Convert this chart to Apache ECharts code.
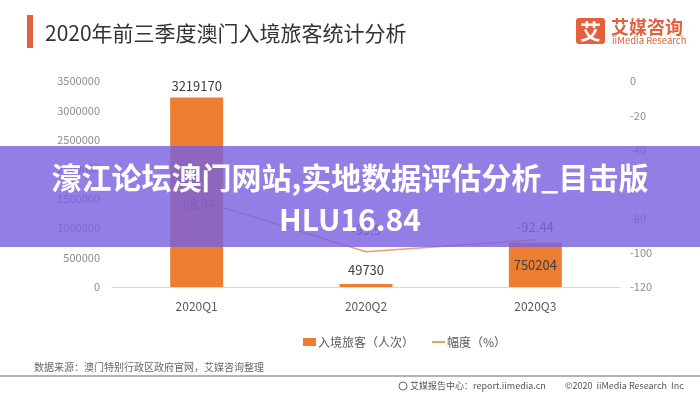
<!DOCTYPE html>
<html>
<head>
<meta charset="utf-8">
<script src="https://cdn.jsdelivr.net/npm/echarts@6/dist/echarts.min.js"></script>
<style>
  html, body { margin: 0; padding: 0; background: #fff; }
  #chart { width: 700px; height: 394px; }
</style>
</head>
<body>
<div id="chart"></div>
<script>
// ---- data ----
const categories = ['2020Q1', '2020Q2', '2020Q3'];
const visitors = [3219170, 49730, 750204];       // 入境旅客（人次）
const changePct = [-68.94, -99.5, -92.44];        // 幅度（%）
const seriesNames = ['入境旅客（人次）', '幅度（%）'];
const titleText = '2020年前三季度澳门入境旅客统计分析';
const sourceText = '数据来源：澳门特别行政区政府官网，艾媒咨询整理';
const overlayLine1 = '濠江论坛澳门网站,实地数据评估分析_目击版';
const overlayLine2 = 'HLU16.84';

// ---- label placement (style only) ----
const barLabelPos = ['top', 'top', 'inside'];
const lineLabelOffset = [[0, 17], [0, -10], [0, -1]];

const FONT = '"Noto Sans CJK SC", "Noto Sans", sans-serif';
const ORANGE = '#ED7D31';
const LINE_COLOR = '#EBA063';
const BRAND = '#E2603D';

const chart = echarts.init(document.getElementById('chart'), null, { renderer: 'canvas' });

const option = {
  backgroundColor: '#fff',
  animation: false,
  textStyle: { fontFamily: FONT },
  grid: { left: 112, right: 80, top: 81, bottom: 107, containLabel: false },
  legend: {
    data: [
      { name: seriesNames[0], icon: 'rect' },
      { name: seriesNames[1], icon: 'path://M0,0 L10,0 L10,1.6 L0,1.6 Z' }
    ],
    left: 298,
    top: 331,
    itemWidth: 13,
    itemHeight: 8,
    itemGap: 18,
    textStyle: { color: '#595959', fontSize: 12, padding: [0, 0, 0, -3] },
    selectedMode: false
  },
  xAxis: {
    type: 'category',
    data: categories,
    axisLine: { lineStyle: { color: '#d9d9d9', width: 1 } },
    axisTick: { show: false },
    axisLabel: { color: '#595959', fontSize: 12, margin: 13 }
  },
  yAxis: [
    {
      type: 'value',
      min: 0, max: 3500000, interval: 500000,
      axisLine: { show: false },
      axisTick: { show: false },
      splitLine: { show: false },
      axisLabel: { color: '#8c8c8c', fontSize: 11, margin: 12, formatter: v => String(v) }
    },
    {
      type: 'value',
      min: -120, max: 0, interval: 20,
      axisLine: { show: false },
      axisTick: { show: false },
      splitLine: { show: false },
      axisLabel: { color: '#8c8c8c', fontSize: 11, margin: 10, align: 'left', formatter: v => String(v) }
    }
  ],
  series: [
    {
      name: seriesNames[1],
      type: 'line',
      yAxisIndex: 1,
      z: 1,
      data: changePct,
      showSymbol: false,
      symbol: 'none',
      lineStyle: { color: LINE_COLOR, width: 1.5 },
      itemStyle: { color: LINE_COLOR },
      label: { show: false }
    },
    {
      name: seriesNames[0],
      type: 'bar',
      yAxisIndex: 0,
      z: 2,
      barWidth: 53,
      itemStyle: { color: ORANGE },
      data: visitors.map((v, i) => ({
        value: v,
        label: { position: barLabelPos[i], distance: i === 1 ? 8 : 5 }
      })),
      label: { show: true, color: '#404040', fontSize: 13, formatter: '{c}' }
    },
    {
      name: 'labels',
      type: 'line',
      yAxisIndex: 1,
      z: 5,
      silent: true,
      data: changePct.map((v, i) => ({
        value: v,
        label: { offset: lineLabelOffset[i] }
      })),
      symbol: 'circle',
      symbolSize: 1,
      showSymbol: true,
      itemStyle: { color: 'rgba(0,0,0,0)' },
      lineStyle: { opacity: 0, width: 0 },
      label: { show: true, position: 'top', color: '#595959', fontSize: 13, formatter: '{c}' }
    }
  ],
  graphic: [
    // title bar + title
    { type: 'rect', left: 27, top: 15, shape: { width: 6, height: 33 }, style: { fill: BRAND } },
    { type: 'text', x: 45, y: 33, style: { text: titleText, fill: '#333', font: '21px ' + FONT, textVerticalAlign: 'middle', verticalAlign: 'middle' } },
    // logo
    { type: 'rect', left: 576, top: 18, shape: { width: 29, height: 26, r: 3 }, style: { fill: BRAND } },
    { type: 'text', x: 590.5, y: 31.5, style: { text: '艾', fill: '#fff', font: 'bold 21px ' + FONT, textAlign: 'center', align: 'center', textVerticalAlign: 'middle', verticalAlign: 'middle' } },
    { type: 'text', x: 611, y: 27, style: { text: '艾媒咨询', fill: BRAND, font: 'bold 18px ' + FONT, textVerticalAlign: 'middle', verticalAlign: 'middle' } },
    { type: 'text', x: 612, y: 40, style: { text: 'iiMedia Research', fill: BRAND, font: '9.5px ' + FONT, textVerticalAlign: 'middle', verticalAlign: 'middle' } },
    // source + footer
    { type: 'text', x: 34, y: 367, style: { text: sourceText, fill: '#666', font: '10px ' + FONT, textVerticalAlign: 'middle', verticalAlign: 'middle' } },
    { type: 'line', shape: { x1: 0, y1: 376, x2: 700, y2: 376 }, style: { stroke: '#9a9a9a', lineWidth: 1.5 } },
    { type: 'circle', shape: { cx: 403, cy: 386, r: 4 }, style: { fill: 'none', stroke: '#666', lineWidth: 1 } },
    { type: 'text', x: 410, y: 386, style: { text: '艾媒报告中心：report.iimedia.cn', fill: '#555', font: '9px ' + FONT, textVerticalAlign: 'middle', verticalAlign: 'middle' } },
    { type: 'text', x: 565, y: 386, style: { text: '©2020  iiMedia Research  Inc', fill: '#555', font: '9px ' + FONT, textVerticalAlign: 'middle', verticalAlign: 'middle' } },
    // overlay banner
    { type: 'rect', left: 0, top: 146, z: 100, shape: { width: 700, height: 101 }, style: { fill: 'rgba(122,98,222,0.82)' } },
    { type: 'text', x: 350, y: 178, z: 101, style: { text: overlayLine1, fill: '#fff', font: 'bold 30px ' + FONT, textAlign: 'center', align: 'center', textVerticalAlign: 'middle', verticalAlign: 'middle' } },
    { type: 'text', x: 350, y: 220, z: 101, style: { text: overlayLine2, fill: '#fff', font: 'bold 30px ' + FONT, textAlign: 'center', align: 'center', textVerticalAlign: 'middle', verticalAlign: 'middle' } }
  ]
};

chart.setOption(option);
</script>
</body>
</html>
